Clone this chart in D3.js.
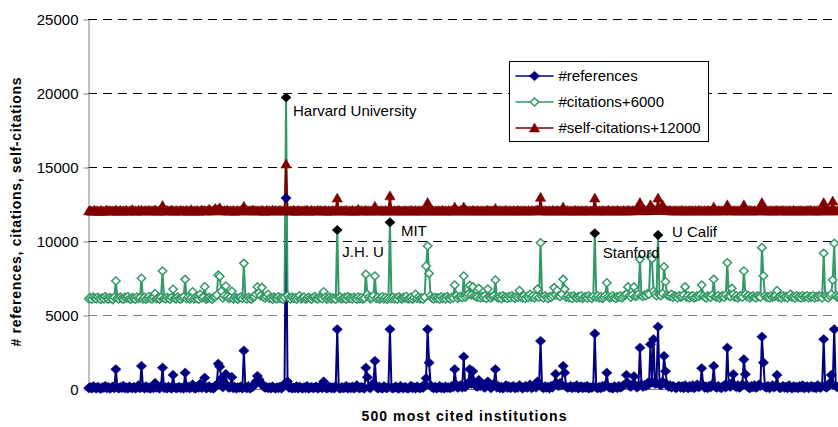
<!DOCTYPE html>
<html>
<head>
<meta charset="utf-8">
<script src="https://cdn.jsdelivr.net/npm/d3@7"></script>
<style>
body { margin: 0; background: #fff; }
svg { display: block; font-family: "Liberation Sans", Arial, sans-serif; }
</style>
</head>
<body>
<svg id="chart" width="838" height="427"></svg>
<script>
// 500 most cited institutions, in chart order
var references = [
	60,120,30,180,90,40,150,70,20,110,
	80,200,50,130,30,90,160,60,1330,100,
	40,140,70,210,50,100,30,170,80,60,
	130,40,90,250,60,1550,110,40,180,70,
	90,30,150,60,400,80,120,40,200,1440,
	70,110,40,160,90,30,950,120,50,80,
	140,60,100,30,1100,80,170,50,110,300,
	60,40,130,90,350,70,150,760,40,100,
	180,60,90,40,200,300,1700,1500,700,120,
	400,1010,250,80,130,800,60,150,30,110,
	90,160,40,2590,120,60,200,30,100,150,
	300,500,880,650,450,300,200,90,140,60,
	120,40,170,80,30,110,60,150,40,200,
	350,12900,500,90,140,40,100,60,180,30,
	150,80,40,120,60,200,30,90,140,50,
	100,160,40,80,200,60,500,120,30,90,
	150,50,110,40,180,4030,70,30,130,60,
	90,200,40,120,60,160,30,100,250,80,
	50,140,90,30,1440,800,110,60,200,400,
	1890,120,40,150,70,30,180,90,60,130,
	4030,80,40,110,160,60,30,200,90,50,
	140,70,30,100,220,60,120,40,170,90,
	50,130,80,300,720,4030,1780,250,100,60,
	150,40,90,200,60,120,30,170,80,110,
	60,200,120,1330,300,80,150,250,100,2180,
	130,300,400,1330,350,1200,450,200,150,600,
	200,300,150,90,250,500,180,60,140,350,
	1330,100,200,60,150,40,120,250,80,180,
	60,140,200,50,120,90,250,160,40,110,
	200,80,150,300,60,120,200,100,500,250,
	3240,120,60,180,90,150,40,200,110,300,
	1010,350,200,400,250,1550,1100,150,80,120,
	200,60,150,100,250,40,120,180,60,150,
	90,200,40,120,80,160,3740,100,50,140,
	60,200,120,250,1100,150,80,100,40,180,
	120,60,200,100,150,250,300,950,400,200,
	150,300,850,250,100,200,2790,300,150,250,
	200,400,300,3020,500,3360,350,400,4210,300,
	250,500,2230,1200,300,150,250,100,200,120,
	60,150,200,90,180,60,250,120,50,200,
	100,250,60,150,300,120,200,1400,250,90,
	160,60,200,120,300,1550,150,80,200,120,
	60,150,250,100,2790,300,150,400,1000,200,
	120,250,90,150,300,2000,1000,250,100,60,
	200,120,250,80,150,300,200,3530,1780,150,
	90,200,60,150,250,100,200,950,150,60,
	120,200,80,150,60,250,120,40,180,90,
	150,60,200,100,250,50,120,180,60,150,
	200,90,150,60,250,120,80,200,3360,150,
	100,200,400,950,300,4030,200,120,180,90
];

var citations = [
	100,180,60,220,140,80,200,120,50,160,
	90,240,130,70,180,110,40,200,1300,150,
	80,210,120,60,190,140,250,100,70,180,
	130,60,220,110,170,1480,90,200,60,140,
	250,120,80,190,450,100,160,70,210,1970,
	140,80,200,110,60,180,735,130,90,220,
	120,60,170,240,1410,100,200,80,150,575,
	90,180,120,60,400,150,210,910,70,140,
	200,110,60,180,230,350,1700,1600,600,150,
	300,960,250,120,180,600,90,200,140,60,
	170,220,110,2490,150,80,200,130,60,190,
	250,400,900,500,300,850,200,150,250,400,
	120,180,70,210,140,90,230,110,160,60,
	200,13700,300,150,80,210,120,170,60,190,
	300,90,160,220,70,130,200,110,60,180,
	240,120,80,200,150,100,575,190,60,140,
	210,90,170,120,60,4740,150,220,80,130,
	190,60,240,110,170,80,200,130,60,220,
	100,180,70,140,1750,400,200,90,160,300,
	1635,120,200,70,150,230,90,180,60,140,
	5260,110,200,80,170,60,230,130,90,190,
	140,250,80,120,200,60,170,400,110,220,
	90,160,60,200,2310,3660,1800,300,140,80,
	200,120,170,60,230,110,180,90,250,140,
	80,200,150,1030,300,120,220,250,160,1635,
	200,300,400,1000,350,900,300,250,200,800,
	150,250,180,300,120,760,220,150,250,300,
	1365,200,150,250,100,300,180,220,120,250,
	160,300,200,120,250,180,650,200,150,300,
	120,250,180,400,200,300,150,250,750,200,
	3885,250,150,300,200,120,250,180,300,850,
	350,650,300,250,400,1410,750,200,300,150,
	250,120,300,200,150,250,180,300,120,200,
	250,150,300,180,120,250,4520,200,300,150,
	250,120,200,300,1180,250,150,200,300,180,
	120,250,200,300,150,250,350,400,900,300,
	200,350,900,250,300,400,2760,300,250,350,
	300,450,400,2940,2800,600,400,300,4400,350,
	300,450,2265,1250,350,300,250,400,200,300,
	250,150,300,200,250,350,900,200,300,150,
	250,300,150,200,300,250,350,1030,300,200,
	150,300,250,200,350,1410,250,200,300,150,
	250,300,200,350,2535,300,250,800,400,200,
	300,150,250,300,200,1970,400,250,300,150,
	250,300,200,150,300,250,200,3550,1650,300,
	200,250,150,300,200,250,300,650,200,250,
	150,300,200,250,150,300,400,200,250,150,
	300,200,250,150,300,200,250,300,150,250,
	200,300,150,250,200,300,250,150,3170,300,
	250,150,300,400,1365,3845,300,200,250,150
];

var selfCitations = [
	30,60,10,40,80,20,50,0,70,30,
	10,40,90,20,60,20,50,30,100,10,
	40,70,20,50,30,80,10,40,60,120,
	30,50,10,70,40,90,20,40,60,30,
	80,20,50,40,100,40,10,60,30,400,
	40,20,70,30,50,90,40,10,60,40,
	20,70,40,50,30,80,10,40,120,20,
	50,30,70,10,40,90,40,60,20,50,
	150,40,20,70,200,90,150,250,40,30,
	60,40,90,20,50,30,70,10,40,60,
	30,50,80,350,40,70,20,50,40,90,
	40,60,20,50,30,80,40,10,70,40,
	50,20,90,40,60,30,40,70,20,50,
	40,3200,60,30,50,20,80,40,10,70,
	30,50,20,60,40,90,10,40,70,30,
	50,20,80,40,60,30,40,70,10,50,
	40,20,70,30,50,900,40,20,60,30,
	50,80,20,40,30,70,10,50,40,150,
	30,60,20,40,70,30,50,20,40,60,
	350,30,50,20,60,40,30,70,20,50,
	1050,40,20,60,30,50,70,20,40,30,
	60,20,50,30,70,40,20,60,30,50,
	40,20,60,30,50,600,40,20,70,30,
	50,30,60,20,40,70,30,50,20,60,
	30,50,20,300,60,40,30,70,20,300,
	40,60,30,50,20,70,40,30,60,40,
	20,50,40,30,60,80,20,40,50,30,
	200,40,30,60,20,50,40,70,30,40,
	50,20,60,30,40,70,20,50,30,60,
	40,30,60,20,50,40,30,70,100,50,
	950,40,30,60,20,50,40,30,70,40,
	30,60,40,20,50,300,40,30,60,20,
	50,30,40,70,20,60,30,40,50,20,
	60,40,20,50,30,70,900,40,30,50,
	20,60,40,30,50,80,40,20,60,30,
	40,70,30,50,20,60,40,30,70,50,
	30,60,40,50,90,70,600,80,50,40,
	60,80,50,450,100,150,80,60,900,120,
	80,450,200,100,60,40,70,30,50,40,
	60,30,50,40,70,20,50,40,30,60,
	40,50,30,60,20,70,40,50,30,60,
	30,60,40,20,50,300,40,30,60,40,
	50,30,60,40,450,70,30,50,40,60,
	30,50,40,60,20,450,40,30,50,70,
	40,30,60,20,50,70,40,600,60,30,
	50,40,30,60,20,50,40,70,30,50,
	40,60,30,50,20,60,40,30,70,40,
	30,50,40,60,20,50,30,60,40,70,
	40,30,60,20,50,40,30,70,600,40,
	50,30,60,40,700,60,30,50,40,60
];

var seriesNames = ["#references", "#citations+6000", "#self-citations+12000"];
var seriesOffsets = [0, 6000, 12000];
var yTicks = [0, 5000, 10000, 15000, 20000, 25000];
var highlightNames = ["Harvard University", "J.H. U", "MIT", "Stanford", "U Calif"];
var highlightIndex = [131, 165, 200, 336, 378];

// label placement (px from the marked point)
var labelShift = [[7, 19], [5, 27], [11, 14], [8, 25], [14, 2]];

function drawChart() {
	var svg = d3.select("#chart"),
		x0 = 88, x1 = 841, y0 = 389, y1 = 19,
		colors = ["#000080", "#339966", "#800000"];

	var x = d3.scaleBand().domain(d3.range(references.length)).range([x0, x1]);
	var y = d3.scaleLinear().domain([0, 25000]).range([y0, y1]);
	var cx = function (i) { return x(i) + x.bandwidth() / 2; };

	// gridlines
	svg.append("g").selectAll("line")
		.data(yTicks.slice(1))
		.join("line")
		.attr("x1", x0).attr("x2", 838)
		.attr("y1", function (d) { return Math.round(y(d)) + 0.5; })
		.attr("y2", function (d) { return Math.round(y(d)) + 0.5; })
		.attr("stroke", function (d) { return d == 5000 ? "#808080" : "#000"; })
		.attr("stroke-dasharray", "9,6");

	// y axis
	var yAxis = svg.append("g")
		.attr("transform", "translate(" + (x0 + 0.5) + ",0.5)")
		.call(d3.axisLeft(y).tickValues(yTicks).tickFormat(d3.format("d"))
			.tickSize(5).tickSizeOuter(0).tickPadding(5));
	yAxis.select(".domain").attr("stroke", "#808080");
	yAxis.selectAll(".tick line").attr("stroke", "#808080");
	yAxis.selectAll(".tick text")
		.attr("font-family", "Liberation Sans, Arial, sans-serif")
		.attr("font-size", 15).attr("fill", "#000");

	// x axis line
	svg.append("line")
		.attr("x1", x0).attr("x2", 838)
		.attr("y1", y0 + 0.5).attr("y2", y0 + 0.5)
		.attr("stroke", "#808080");

	var series = [references, citations, selfCitations];

	var line = function (k) {
		return d3.line()
			.x(function (d, i) { return cx(i); })
			.y(function (d) { return y(d + seriesOffsets[k]); });
	};

	// lines of all series first, then markers (Excel order)
	series.forEach(function (s, k) {
		svg.append("path")
			.datum(s)
			.attr("fill", "none")
			.attr("stroke", colors[k])
			.attr("stroke-width", 2)
			.attr("stroke-linejoin", "round")
			.attr("d", line(k));
	});

	var shapes = [
		"M0,-4.8L5.2,0L0,4.8L-5.2,0Z",
		"M0,-4L4.2,0L0,4L-4.2,0Z",
		"M0,-5L5.2,4L-5.2,4Z"
	];

	series.forEach(function (s, k) {
		svg.append("g").selectAll("path")
			.data(s)
			.join("path")
			.attr("transform", function (d, i) {
				return "translate(" + cx(i) + "," + y(d + seriesOffsets[k]) + ")";
			})
			.attr("d", shapes[k])
			.attr("fill", k == 1 ? "#fff" : colors[k])
			.attr("stroke", colors[k])
			.attr("stroke-width", k == 1 ? 1.5 : 0.5);
	});

	// highlighted institutions on the citations series
	var hl = svg.append("g");
	highlightIndex.forEach(function (idx, j) {
		var px = cx(idx), py = y(citations[idx] + 6000);
		hl.append("path")
			.attr("transform", "translate(" + px + "," + py + ")")
			.attr("d", shapes[0])
			.attr("fill", "#000");
		hl.append("text")
			.attr("x", px + labelShift[j][0])
			.attr("y", py + labelShift[j][1])
			.attr("font-size", 15)
			.text(highlightNames[j]);
	});

	// legend
	var lg = svg.append("g").attr("transform", "translate(509.5,61.5)");
	lg.append("rect").attr("width", 199).attr("height", 80)
		.attr("fill", "#fff").attr("stroke", "#000");
	seriesNames.forEach(function (name, k) {
		var ly = 14.5 + k * 26;
		lg.append("line").attr("x1", 6).attr("x2", 44).attr("y1", ly).attr("y2", ly)
			.attr("stroke", colors[k]).attr("stroke-width", 1.6);
		lg.append("path").attr("transform", "translate(25," + ly + ")")
			.attr("d", shapes[k])
			.attr("fill", k == 1 ? "#fff" : colors[k])
			.attr("stroke", colors[k]).attr("stroke-width", k == 1 ? 1.5 : 0.5);
		lg.append("text").attr("x", 49).attr("y", ly + 5)
			.attr("font-size", 15).text(name);
	});

	// axis titles
	svg.append("text")
		.attr("transform", "translate(21,212) rotate(-90)")
		.attr("text-anchor", "middle")
		.attr("font-size", 14).attr("font-weight", "bold")
		.attr("textLength", 269)
		.text("# references, citations, self-citations");

	svg.append("text")
		.attr("x", 464).attr("y", 421)
		.attr("text-anchor", "middle")
		.attr("font-size", 14).attr("font-weight", "bold")
		.attr("textLength", 205)
		.text("500 most cited institutions");
}

drawChart();
</script>
</body>
</html>
